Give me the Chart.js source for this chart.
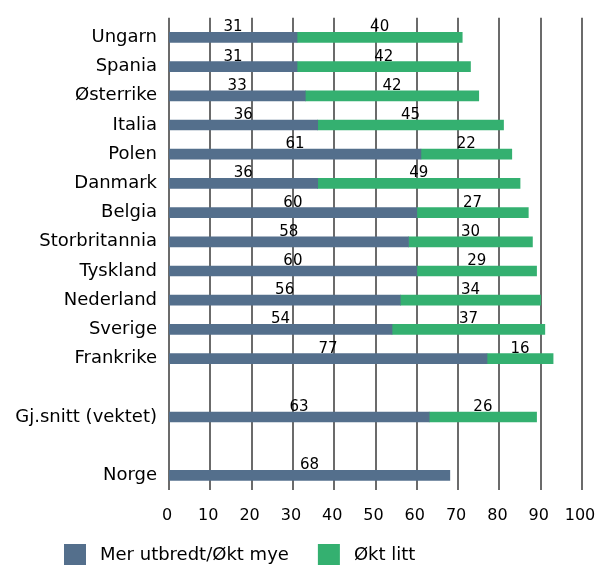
<!DOCTYPE html>
<html>
<head>
<meta charset="utf-8">
<script src="https://cdn.jsdelivr.net/npm/chart.js@4"></script>
<style>
    html, body { margin: 0; padding: 0; background: #fff; }
    #wrap { width: 596px; height: 565px; }
</style>
</head>
<body>
<div id="wrap"><canvas id="chart"></canvas></div>
<script>
// Categories (blank entries give the gaps before the average and Norway)
const categories = ['Ungarn', 'Spania', 'Østerrike', 'Italia', 'Polen', 'Danmark', 'Belgia',
    'Storbritannia', 'Tyskland', 'Nederland', 'Sverige', 'Frankrike', '', 'Gj.snitt (vektet)', '', 'Norge'];
const seriesNames = ['Mer utbredt/Økt mye', 'Økt litt'];
const muchValues = [31, 31, 33, 36, 61, 36, 60, 58, 60, 56, 54, 77, null, 63, null, 68];
const littleValues = [40, 42, 42, 45, 22, 49, 27, 30, 29, 34, 37, 16, null, 26, null, null];
const xTicks = [0, 10, 20, 30, 40, 50, 60, 70, 80, 90, 100];

const colors = {
    much: '#546f8c',
    little: '#34b070',
    grid: '#3a3a3a',
    text: '#000000'
};
const FONT = "'DejaVu Sans', sans-serif";

// Value labels above each bar segment
const valueLabels = {
    id: 'valueLabels',
    afterDatasetsDraw(chart) {
        const ctx = chart.ctx;
        ctx.save();
        ctx.font = '15px ' + FONT;
        ctx.fillStyle = colors.text;
        ctx.textAlign = 'center';
        ctx.textBaseline = 'alphabetic';
        chart.data.datasets.forEach((ds, i) => {
            const meta = chart.getDatasetMeta(i);
            meta.data.forEach((el, j) => {
                const v = ds.data[j];
                if (v === null || v === undefined) return;
                const p = el.getProps(['x', 'y', 'base', 'height'], true);
                ctx.fillText(String(v), (p.x + p.base) / 2, p.y - p.height / 2 - 1);
            });
        });
        ctx.restore();
    }
};

// Vertical grid lines, starting a little above the first band
const vGrid = {
    id: 'vGrid',
    beforeDatasetsDraw(chart) {
        const ctx = chart.ctx;
        const xs = chart.scales.x;
        const area = chart.chartArea;
        ctx.save();
        ctx.strokeStyle = colors.grid;
        ctx.lineWidth = 1.5;
        xs.ticks.forEach(t => {
            const x = Math.round(xs.getPixelForValue(t.value));
            ctx.beginPath();
            ctx.moveTo(x, area.top - 5);
            ctx.lineTo(x, area.bottom);
            ctx.stroke();
        });
        ctx.restore();
    }
};

// Legend drawn by hand so it can sit left of centre like the original
const bottomLegend = {
    id: 'bottomLegend',
    afterDraw(chart) {
        const ctx = chart.ctx;
        ctx.save();
        ctx.font = '18px ' + FONT;
        ctx.textBaseline = 'middle';
        ctx.textAlign = 'left';
        let x = 64;
        const y = 544;
        chart.data.datasets.forEach(ds => {
            ctx.fillStyle = ds.backgroundColor;
            ctx.fillRect(x, y, 22, 21);
            ctx.fillStyle = colors.text;
            ctx.fillText(ds.label, x + 36, y + 11);
            x += 36 + ctx.measureText(ds.label).width + 29;
        });
        ctx.restore();
    }
};

new Chart(document.getElementById('chart'), {
    type: 'bar',
    data: {
        labels: categories,
        datasets: [
            {
                label: seriesNames[0],
                data: muchValues,
                backgroundColor: colors.much,
                barThickness: 10
            },
            {
                label: seriesNames[1],
                data: littleValues,
                backgroundColor: colors.little,
                barThickness: 10
            }
        ]
    },
    options: {
        indexAxis: 'y',
        responsive: true,
        maintainAspectRatio: false,
        animation: false,
        layout: {
            padding: { top: 20, left: 0, right: 14, bottom: 0 }
        },
        plugins: {
            legend: { display: false },
            tooltip: { enabled: false }
        },
        scales: {
            x: {
                stacked: true,
                min: 0,
                max: 100,
                afterBuildTicks: function(scale) {
                    scale.ticks = xTicks.map(v => ({ value: v }));
                },
                afterFit: function(scale) {
                    scale.height = 75;
                    scale.paddingRight = 0;
                },
                grid: { display: false, drawTicks: false },
                border: { display: false },
                ticks: {
                    padding: 16,
                    labelOffset: -2,
                    color: colors.text,
                    font: { family: FONT, size: 16 }
                }
            },
            y: {
                stacked: true,
                afterFit: function(scale) {
                    scale.width = 169;
                },
                grid: { display: false, drawTicks: false },
                border: { display: false },
                ticks: {
                    padding: 12,
                    autoSkip: false,
                    color: colors.text,
                    font: { family: FONT, size: 18 }
                }
            }
        }
    },
    plugins: [vGrid, valueLabels, bottomLegend]
});
</script>
</body>
</html>
